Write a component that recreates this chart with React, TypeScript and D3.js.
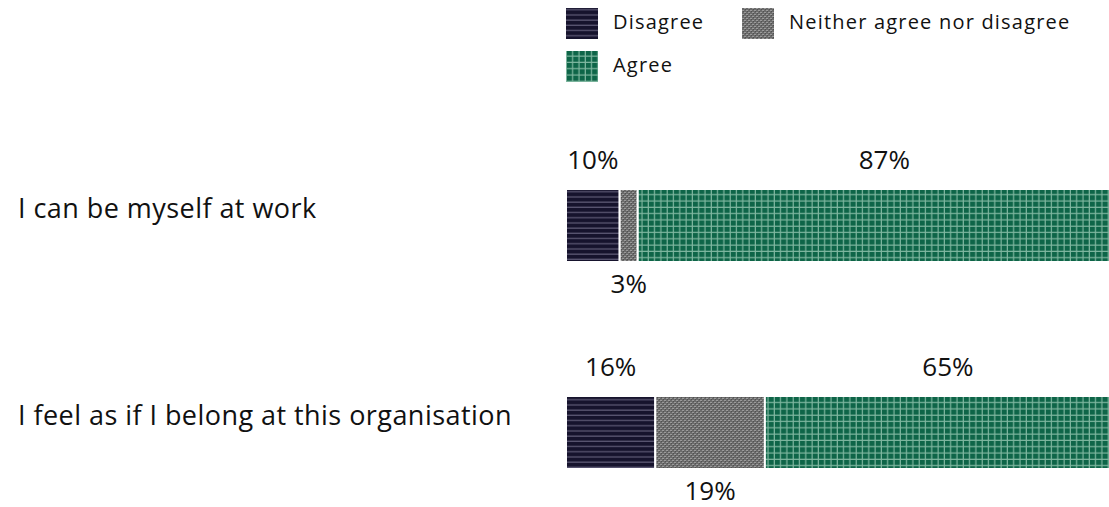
import React from "react";
import * as d3 from "d3";

const categories = ["I can be myself at work", "I feel as if I belong at this organisation"];
const seriesNames = ["Disagree", "Neither agree nor disagree", "Agree"];
const disagree = [9.5, 15.8];
const neither = [3.2, 19.4];
const agree = [87.3, 64.8];

const W = 1109, H = 507;

export default function App() {
  const x = d3.scaleLinear().domain([0, 100]).range([566, 1131]);
  const fills = ["url(#pDis)", "url(#pNei)", "url(#pAgr)"];
  const font = "'Open Sans', 'Noto Sans', sans-serif";
  const rows = categories.map((c, i) => {
    const vals = [disagree[i], neither[i], agree[i]];
    let cum = 0;
    const segs = vals.map((v, k) => {
      const s = { x0: cum, x1: cum + v, v, k };
      cum += v;
      return s;
    });
    return { c, segs };
  });
  const tops = [189, 396];
  const bh = 73;
  return (
    <svg width={W} height={H} style={{ position: "absolute", left: 0, top: 0, background: "#fff" }}>
      <defs>
        <pattern id="pDis" width="6" height="5.2" patternUnits="userSpaceOnUse">
          <rect width="6" height="5.2" fill="#16132d" />
          <rect y="4" width="6" height="1" fill="#6e6a86" />
        </pattern>
        <pattern id="pNei" width="4" height="4" patternUnits="userSpaceOnUse">
          <rect width="4" height="4" fill="#6b6b6b" />
          <rect x="0" y="0" width="2" height="1" fill="#9a9a9a" />
          <rect x="2" y="2" width="2" height="1" fill="#9a9a9a" />
          <rect x="1" y="1" width="1" height="1" fill="#505050" />
          <rect x="3" y="3" width="1" height="1" fill="#505050" />
        </pattern>
        <pattern id="pAgr" width="6.3" height="6.3" patternUnits="userSpaceOnUse">
          <rect width="6.3" height="6.3" fill="#0e6548" />
          <rect x="5.1" width="1.2" height="6.3" fill="#7fb7a0" />
          <rect y="5.1" width="6.3" height="1.2" fill="#7fb7a0" />
        </pattern>
      </defs>
      <g fontFamily={font} fontSize={20} letterSpacing={1.2} fill="#111">
        <rect x={566} y={8} width={32} height={31} fill={fills[0]} />
        <text x={613} y={29}>{seriesNames[0]}</text>
        <rect x={742} y={8} width={32} height={31} fill={fills[1]} />
        <text x={789} y={29}>{seriesNames[1]}</text>
        <rect x={566} y={51} width={32} height={31} fill={fills[2]} />
        <text x={613} y={72}>{seriesNames[2]}</text>
      </g>
      {rows.map((r, i) => {
        const top = tops[i];
        return (
          <g key={r.c}>
            <text x={18} y={top + 29} fontFamily={font} fontSize={27} letterSpacing={0.45} fill="#111">{r.c}</text>
            {r.segs.map((s) => (
              <rect key={s.k} x={x(s.x0)} y={top} width={x(s.x1) - x(s.x0)} height={bh}
                fill={fills[s.k]} stroke="#fff" strokeWidth={2} />
            ))}
            {r.segs.map((s) => (
              <text key={"t" + s.k} x={(x(s.x0) + x(s.x1)) / 2} y={s.k === 1 ? top + bh + 31 : top - 20}
                textAnchor="middle" fontFamily={font} fontSize={26} fill="#111">{Math.round(s.v)}%</text>
            ))}
          </g>
        );
      })}
    </svg>
  );
}
